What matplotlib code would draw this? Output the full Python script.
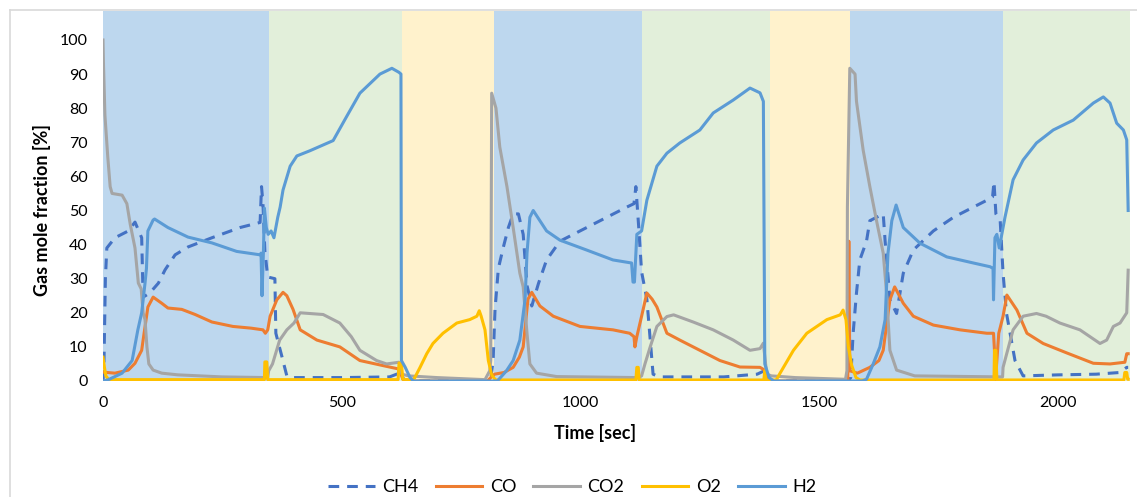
import matplotlib
matplotlib.use("Agg")
import matplotlib.pyplot as plt
from matplotlib.lines import Line2D

plt.rcParams['font.family'] = ['Lato', 'DejaVu Sans']

# phase bands (start, end, colour key), seconds
band_start = [0, 348, 626, 819, 1128, 1397, 1564, 1884]
band_end = [348, 626, 819, 1128, 1397, 1564, 1884, 2150]
band_kind = ['red', 'ox', 'air', 'red', 'ox', 'air', 'red', 'ox']

# gas traces: time [s], mole fraction [%]
ch4_t = [0, 2, 5, 8, 25, 53, 67, 81, 84, 98, 116, 130, 151, 178, 228, 287, 329, 332, 335, 339, 345,
         360, 362, 375, 385, 400, 500, 600, 615, 622, 630, 640, 800, 812, 817, 821, 828, 838, 849,
         859, 870, 880, 888, 898, 912, 929, 957, 999, 1055, 1097, 1112, 1116, 1122, 1128, 1139,
         1152, 1165, 1300, 1370, 1385, 1392, 1400, 1560, 1566, 1571, 1578, 1585, 1599, 1606, 1634,
         1638, 1648, 1662, 1676, 1697, 1739, 1781, 1823, 1851, 1863, 1866, 1870, 1879, 1885, 1892,
         1910, 1927, 2000, 2080, 2130, 2144, 2147]
ch4_v = [0, 5, 30, 39, 42, 44, 46.6, 42, 24.6, 25.8, 28.7, 32.6, 37, 39.3, 42, 45, 46.5, 57, 52, 38, 30.5,
         30, 14, 7, 1.5, 1, 1, 1.2, 2, 2.5, 0.5, 0, 0, 0.5, 6, 21, 33, 39, 45,
         49, 49, 43, 28, 22, 28.6, 35.5, 41, 44, 48, 51, 52, 57, 45, 32, 24,
         2, 1.2, 1.2, 2, 3, 0.5, 0, 0, 1, 14, 25.8, 35.5, 41, 47, 49,
         41, 23.8, 19.8, 31.6, 38.4, 44, 48, 51, 53, 54, 58.4, 49, 47, 31.6, 20,
         6, 1.5, 1.8, 2, 2.5, 4, 4]

co_t = [0, 25, 53, 67, 81, 84, 94, 105, 123, 136, 165, 193, 228, 272, 310, 335, 340, 345, 350, 364,
        377, 385, 398, 413, 448, 496, 538, 587, 620, 628, 640, 805, 812, 820, 840, 859, 872, 880, 890,
        898, 915, 943, 999, 1068, 1103, 1112, 1114, 1118, 1128, 1139, 1150, 1160, 1181, 1208, 1250,
        1292, 1334, 1376, 1388, 1395, 1560, 1562, 1564, 1580, 1606, 1625, 1634, 1648, 1658, 1676,
        1697, 1739, 1795, 1851, 1865, 1867, 1869, 1876, 1885, 1893, 1914, 1935, 1969, 2019, 2074,
        2109, 2140, 2144, 2147]
co_v = [2.6, 2.3, 3.2, 5.2, 9, 12, 21.7, 24.6, 22.8, 21.4, 21, 19.5, 17.3, 16, 15.5, 15, 14, 15, 19, 23.8,
        26, 25, 21, 15, 12, 10, 6, 4.5, 3.5, 0.5, 0, 0, 1, 2, 2.5, 4, 7, 10, 24,
        26, 22, 19, 16, 15, 14, 13, 10, 13, 19, 25.8, 24, 21.7, 14, 12, 9,
        6, 4.1, 4, 3, 0, 0, 41, 3, 2.3, 4, 6, 9, 23.8, 27.6, 22.8,
        19, 16.4, 15, 14, 14, 9, 0, 14, 19, 25.2, 20.8, 14, 11, 8.2, 5.2,
        5, 5.5, 8, 8]

co2_t = [0, 1, 4, 10, 15, 19, 40, 50, 57, 67, 74, 80, 84, 88, 92, 96, 105, 123, 157, 250, 345, 347,
         355, 370, 385, 400, 413, 461, 496, 520, 538, 573, 594, 620, 626, 640, 700, 800, 810, 812,
         814, 823, 831, 846, 859, 873, 880, 888, 894, 908, 950, 1120, 1128, 1135, 1146, 1160, 1181,
         1195, 1236, 1278, 1320, 1355, 1376, 1383, 1390, 1400, 1450, 1555, 1558, 1559, 1564, 1575,
         1578, 1592, 1606, 1620, 1634, 1641, 1648, 1662, 1700, 1884, 1885, 1906, 1927, 1955, 1975,
         2004, 2046, 2088, 2102, 2116, 2130, 2144, 2147]
co2_v = [100, 93, 78, 65.7, 57, 55, 54.5, 52, 46, 39, 28.7, 27, 20, 18, 10, 5, 3.2, 2.3, 1.8, 1.2, 1, 3,
         5, 12, 15, 17, 20, 19.5, 17, 13, 9, 6, 5, 5.5, 2, 1.5, 1, 0.4, 3, 6,
         84.4, 80, 68.6, 57, 45, 31.6, 27.6, 14, 5, 2.3, 1.3, 1, 1.5, 5, 10, 16, 18.9,
         19.4, 17.3, 15, 12, 9, 9.5, 11.1, 2, 1.5, 1, 0.5, 3, 51, 91.7, 90,
         82, 67.7, 57, 47, 37.5, 25.8, 9, 3.2, 1.5, 1.2, 4, 15, 19, 19.8, 19,
         17, 15, 11, 12, 16, 17, 20, 32.5]

o2_t = [0, 3, 6, 12, 338, 339, 343, 345, 618, 620, 625, 628, 650, 653, 664, 678, 691, 712, 741, 768,
        783, 788, 792, 800, 807, 814, 822, 1116, 1118, 1121, 1123, 1384, 1386, 1389, 1410, 1418, 1446,
        1474, 1516, 1544, 1550, 1556, 1561, 1568, 1577, 1585, 1866, 1867, 1870, 1872, 2138, 2140,
        2144, 2146, 2147]
o2_v = [7, 4, 1.5, 0.4, 0.4, 5.6, 5.6, 0.4, 0.4, 5.3, 5, 0.5, 0.3, 1, 4, 8, 11, 14, 17, 18,
        19, 20.6, 19, 15, 6, 1.8, 0.3, 0.3, 4, 4, 0.3, 0.3, 3, 0.3, 0.3, 2.3, 9,
        14, 18, 19.4, 20.8, 18, 10, 4.6, 1, 0.3, 0.3, 9, 9, 0.3, 0.3, 2.5,
        2.5, 0.5, 0.5]

h2_t = [0, 10, 40, 61, 73, 81, 88, 91, 94, 105, 108, 136, 178, 228, 280, 329, 331, 333, 336, 338, 342,
        346, 352, 358, 366, 371, 377, 392, 406, 433, 482, 510, 538, 580, 605, 620, 624, 625, 633, 643,
        650, 826, 845, 859, 873, 884, 888, 894, 901, 929, 957, 1013, 1068, 1107, 1110, 1113, 1118,
        1128, 1139, 1160, 1181, 1208, 1250, 1278, 1320, 1355, 1376, 1383, 1386, 1395, 1405, 1590,
        1599, 1613, 1627, 1638, 1644, 1652, 1661, 1676, 1711, 1767, 1823, 1858, 1864, 1865, 1868,
        1872, 1877, 1889, 1906, 1927, 1955, 1990, 2032, 2074, 2095, 2109, 2123, 2137, 2144, 2147]
h2_v = [0, 0.3, 2.3, 6, 15, 20, 28.7, 33, 44, 47.2, 47.5, 45, 42.2, 40.5, 38, 37, 37.5, 25, 38, 50.7, 45,
        43, 44, 42, 48, 51, 56, 63, 66, 67.5, 70.5, 77.5, 84.4, 90, 91.7, 90.5, 90, 6, 4, 1,
        0, 0, 3, 6, 12, 24, 37.5, 48, 50, 44, 41.3, 38.4, 35.5, 34.6, 29, 29, 43,
        44, 53, 63, 66.8, 69.8, 73.6, 78.6, 82.4, 85.9, 84.5, 82, 5, 1, 0, 0,
        0.5, 5, 10, 18, 37.5, 47, 51.6, 45, 40.4, 36.4, 34.6, 33.5, 33, 23.8, 42,
        43, 39, 48, 59, 64.8, 69.8, 73.6, 76.5, 81.5, 83.3, 81.5, 75.6, 73.6, 70.7, 50]

band_colors = {'red': '#BDD7EE', 'ox': '#E2EFDA', 'air': '#FFF2CC'}

fig = plt.figure(figsize=(11.37, 4.97), dpi=100)
ax = fig.add_axes([103 / 1137, 116 / 497, 1026.6 / 1137, 370 / 497])

for s, e, k in zip(band_start, band_end, band_kind):
    ax.axvspan(s, e, color=band_colors[k], lw=0, zorder=0)

lw = 2.2
ax.plot(ch4_t, ch4_v, color='#4472C4', lw=lw, ls=(0, (3.5, 2.6)), label='CH4', zorder=2)
ax.plot(co_t, co_v, color='#ED7D31', lw=lw, label='CO', zorder=3)
ax.plot(co2_t, co2_v, color='#A5A5A5', lw=lw, label='CO2', zorder=4)
ax.plot(o2_t, o2_v, color='#FFC000', lw=lw, label='O2', zorder=5)
ax.plot(h2_t, h2_v, color='#5B9BD5', lw=lw, label='H2', zorder=6)

ax.set_xlim(0, 2150)
ax.set_ylim(0, 108.5)
ax.set_xticks([0, 500, 1000, 1500, 2000])
ax.set_yticks(range(0, 101, 10))
ax.tick_params(length=0, labelsize=11.5, colors='#000000')
ax.tick_params(axis='y', pad=11)
ax.tick_params(axis='x', pad=11)
for sp in ax.spines.values():
    sp.set_visible(False)

fig.text(42 / 1137, 1 - 210 / 497, 'Gas mole fraction [%]', rotation=90, ha='center', va='center',
         fontsize=13, fontweight='bold')
fig.text(595 / 1137, 1 - 433 / 497, 'Time [sec]', ha='center', va='center',
         fontsize=13, fontweight='bold')

fig.legend(loc='center', bbox_to_anchor=(572 / 1137, 1 - 487 / 497), ncol=5, frameon=False,
           fontsize=13, handlelength=2.6, handletextpad=0.4, columnspacing=0.95)

# light chart-area frame (only top and left visible)
fc = '#D9D9D9'
fig.add_artist(Line2D([9.5 / 1137, 1], [1 - 9.5 / 497] * 2, transform=fig.transFigure, color=fc, lw=1.2))
fig.add_artist(Line2D([9.5 / 1137] * 2, [0, 1 - 9.5 / 497], transform=fig.transFigure, color=fc, lw=1.2))

fig.savefig('out.png', dpi=100)
